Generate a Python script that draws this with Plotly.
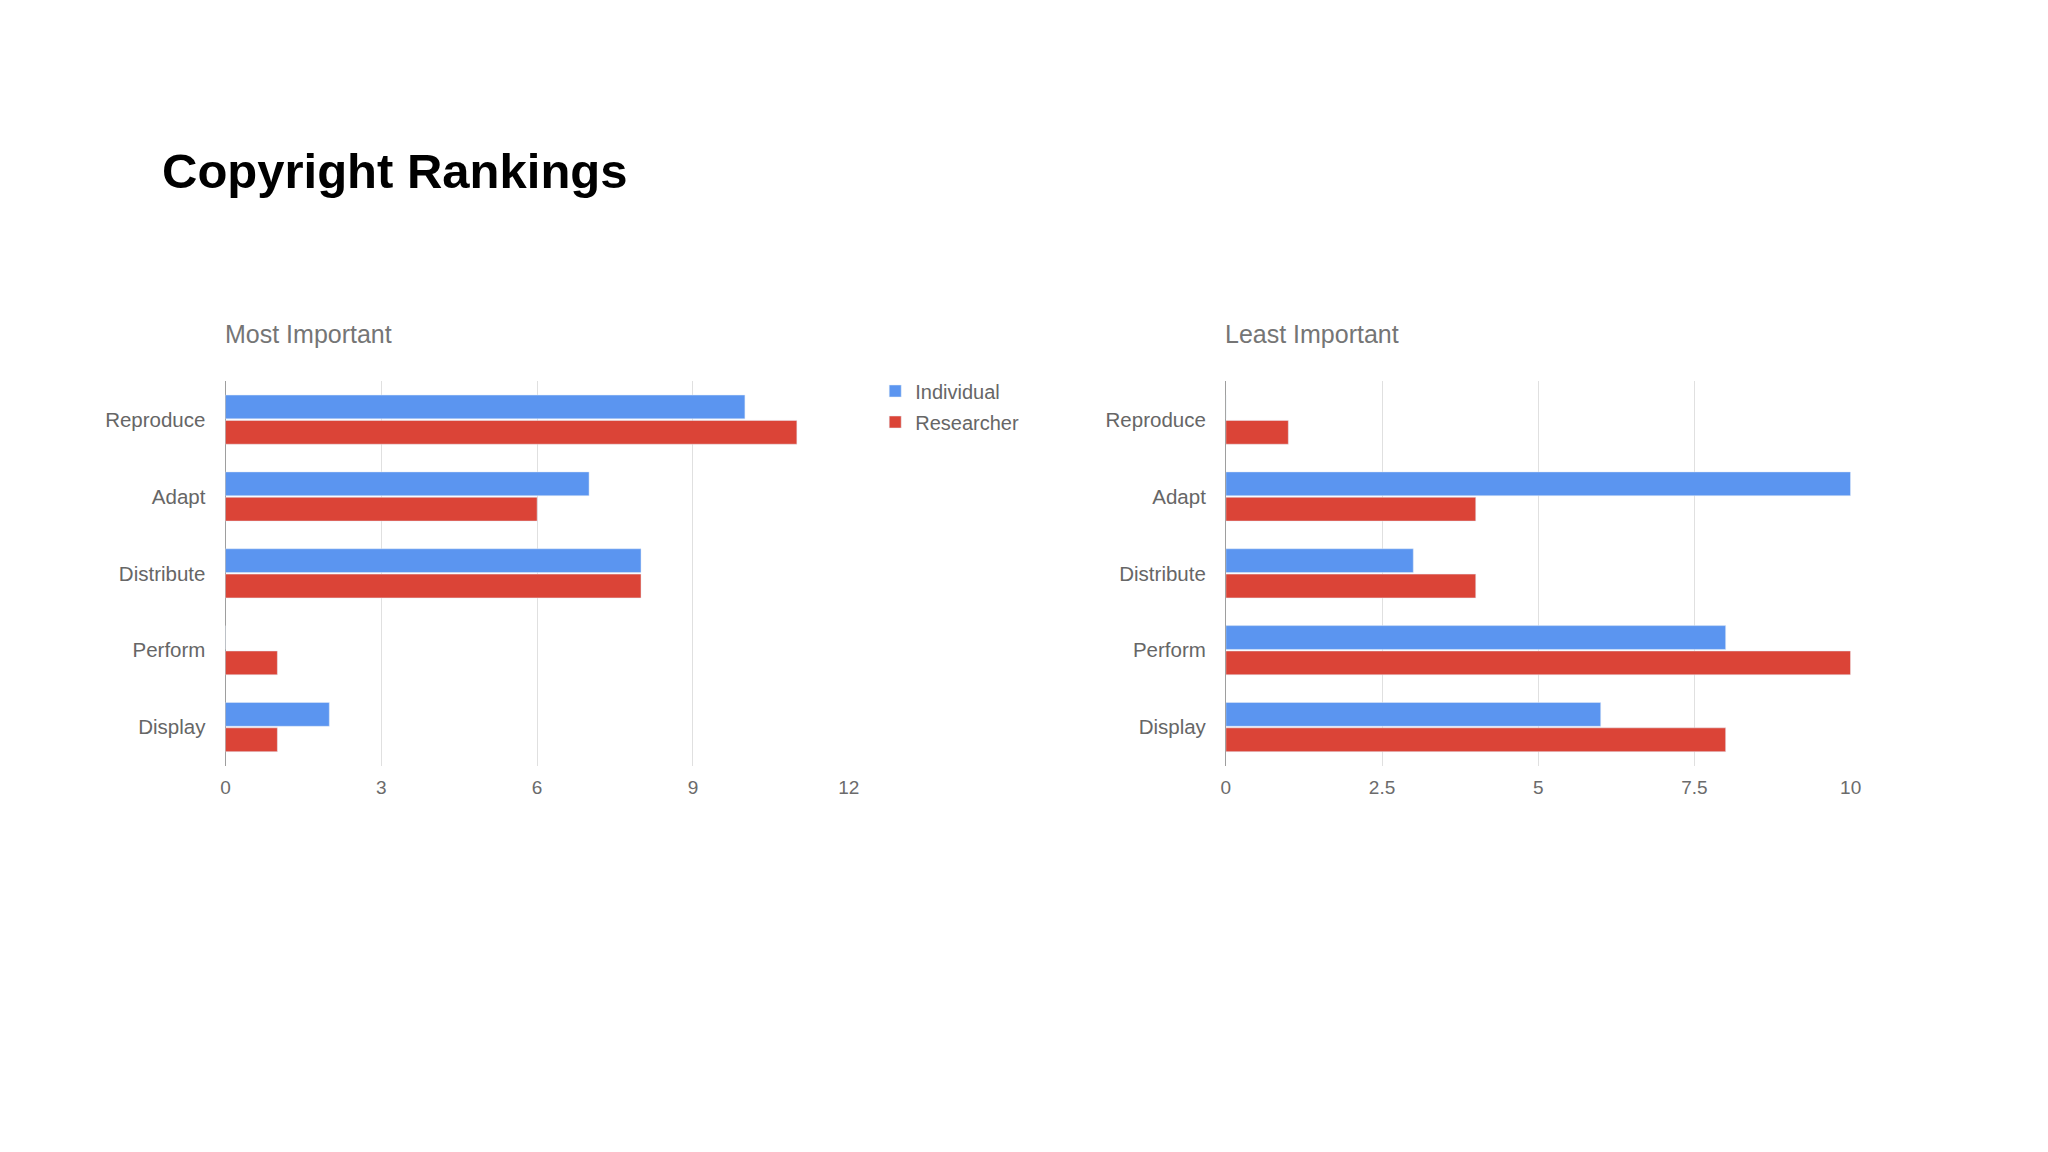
import plotly.graph_objects as go

categories = ["Reproduce", "Adapt", "Distribute", "Perform", "Display"]
series_names = ["Individual", "Researcher"]

most_individual = [10, 7, 8, 0, 2]
most_researcher = [11, 6, 8, 1, 1]
least_individual = [0, 10, 3, 8, 6]
least_researcher = [1, 4, 4, 10, 8]

most_ticks = [0, 3, 6, 9, 12]
least_ticks = [0, 2.5, 5, 7.5, 10]
least_tick_labels = ["0", "2.5", "5", "7.5", "10"]

title_text = "Copyright Rankings"
sub_left = "Most Important"
sub_right = "Least Important"

BLUE = "#5b95f0"
RED = "#db4437"
W, H = 2048, 1152
FONT = "Liberation Sans, Arial, sans-serif"


def px(x):
    return x / W


def py(y):
    return 1 - y / H


fig = go.Figure()

fig.add_trace(go.Bar(y=categories, x=most_individual, name=series_names[0], orientation="h",
                     marker=dict(color=BLUE), xaxis="x", yaxis="y", legendgroup="a"))
fig.add_trace(go.Bar(y=categories, x=most_researcher, name=series_names[1], orientation="h",
                     marker=dict(color=RED), xaxis="x", yaxis="y", legendgroup="b"))
fig.add_trace(go.Bar(y=categories, x=least_individual, name=series_names[0], orientation="h",
                     marker=dict(color=BLUE), xaxis="x2", yaxis="y2", showlegend=False))
fig.add_trace(go.Bar(y=categories, x=least_researcher, name=series_names[1], orientation="h",
                     marker=dict(color=RED), xaxis="x2", yaxis="y2", showlegend=False))

ydom = [py(757.5), py(373.2)]

xcommon = dict(showgrid=True, gridcolor="#e0e0e0", gridwidth=1, zeroline=True,
               zerolinecolor="#9e9e9e", zerolinewidth=1, showline=False, ticks="",
               tickfont=dict(family=FONT, size=19, color="#6b6b6b"), ticklabelstandoff=8,
               fixedrange=True)
ycommon = dict(type="category", autorange="reversed", showgrid=False, zeroline=False,
               showline=False, ticks="", tickfont=dict(family=FONT, size=20.5, color="#666666"),
               ticklabelstandoff=19)

fig.update_layout(
    width=W, height=H,
    margin=dict(l=0, r=0, t=0, b=0),
    paper_bgcolor="white", plot_bgcolor="white",
    barmode="group", bargap=0.34, bargroupgap=0.06,
    xaxis=dict(domain=[px(214.1), px(842.4)], range=[0, 12], tickvals=most_ticks,
               anchor="y", **xcommon),
    yaxis=dict(domain=ydom, anchor="x", **ycommon),
    xaxis2=dict(domain=[px(1222.4), px(1852.1)], range=[0, 10], tickvals=least_ticks,
                ticktext=least_tick_labels, anchor="y2", **xcommon),
    yaxis2=dict(domain=ydom, anchor="x2", **ycommon),
    legend=dict(x=px(869), y=py(363.5), xanchor="left", yanchor="top",
                font=dict(family=FONT, size=20, color="#666666"),
                tracegroupgap=2, bgcolor="rgba(0,0,0,0)"),
    showlegend=True,
    annotations=[
        dict(text=f"<b>{title_text}</b>", x=px(148), y=py(163), xref="paper", yref="paper",
             xanchor="left", yanchor="middle", showarrow=False,
             font=dict(family=FONT, size=49, color="#000000")),
        dict(text=sub_left, x=px(211.6), y=py(326), xref="paper", yref="paper",
             xanchor="left", yanchor="middle", showarrow=False,
             font=dict(family=FONT, size=25, color="#757575")),
        dict(text=sub_right, x=px(1220), y=py(326), xref="paper", yref="paper",
             xanchor="left", yanchor="middle", showarrow=False,
             font=dict(family=FONT, size=25, color="#757575")),
    ],
)

fig.write_html("out.html")
